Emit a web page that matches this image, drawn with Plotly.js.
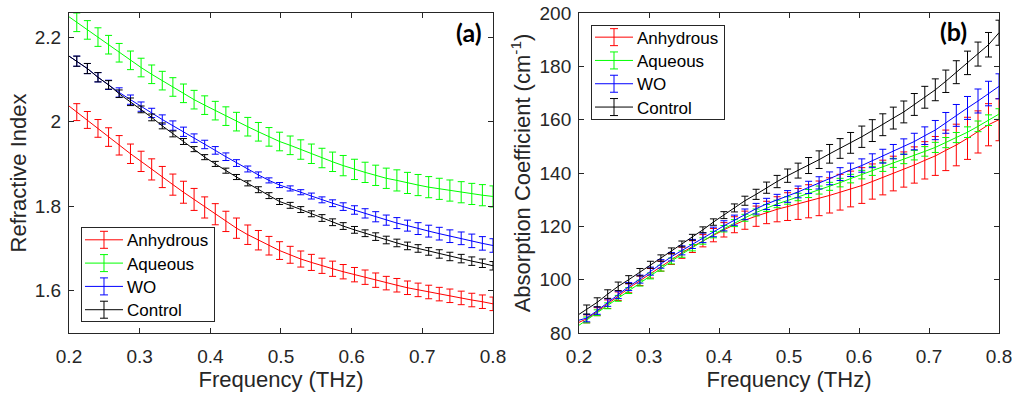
<!DOCTYPE html>
<html>
<head>
<meta charset="utf-8">
<script src="https://cdn.plot.ly/plotly-3.0.1.min.js"></script>
<style>html,body{margin:0;padding:0;background:#fff;}#chart{width:1012px;height:396px;}</style>
</head>
<body>
<div id="chart"></div>
<script>
// Frequency (THz): first value is the start of the curves, the rest are the error-bar points
const freq = [0.200, 0.211, 0.226, 0.241, 0.256, 0.271, 0.287, 0.302, 0.317, 0.332, 0.347,
  0.362, 0.377, 0.392, 0.407, 0.422, 0.437, 0.453, 0.468, 0.483, 0.498,
  0.513, 0.528, 0.543, 0.558, 0.573, 0.588, 0.604, 0.619, 0.634, 0.649,
  0.664, 0.679, 0.694, 0.709, 0.724, 0.739, 0.755, 0.770, 0.785, 0.800];

const seriesNames = ["Anhydrous", "Aqueous", "WO", "Control"];

// (a) Refractive index
const nAnhydrous = [2.037, 2.0225, 2.004, 1.984, 1.9635, 1.944, 1.924, 1.906, 1.887, 1.869, 1.851,
  1.833, 1.816, 1.797, 1.781, 1.764, 1.748, 1.7325, 1.7195, 1.7065, 1.695,
  1.685, 1.675, 1.667, 1.659, 1.652, 1.645, 1.638, 1.632, 1.625, 1.618,
  1.613, 1.607, 1.602, 1.597, 1.592, 1.588, 1.583, 1.578, 1.574, 1.569];
const nAqueous = [2.248, 2.235, 2.217, 2.200, 2.182, 2.163, 2.145, 2.128, 2.112, 2.097, 2.082,
  2.067, 2.052, 2.039, 2.026, 2.013, 2.000, 1.988, 1.976, 1.964, 1.953,
  1.944, 1.934, 1.924, 1.914, 1.905, 1.896, 1.887, 1.880, 1.873, 1.866,
  1.861, 1.855, 1.850, 1.845, 1.841, 1.837, 1.833, 1.829, 1.826, 1.823];
const nWO = [2.155, 2.143, 2.1256, 2.105, 2.087, 2.069, 2.052, 2.0355, 2.0206, 2.005, 1.9907,
  1.976, 1.961, 1.946, 1.932, 1.917, 1.902, 1.888, 1.874, 1.861, 1.850,
  1.842, 1.833, 1.824, 1.815, 1.807, 1.799, 1.791, 1.783, 1.775, 1.767,
  1.760, 1.754, 1.747, 1.741, 1.735, 1.729, 1.724, 1.718, 1.712, 1.707];
const nControl = [2.155, 2.143, 2.1256, 2.105, 2.087, 2.066, 2.047, 2.029, 2.010, 1.990, 1.971,
  1.953, 1.935, 1.916, 1.900, 1.884, 1.869, 1.854, 1.839, 1.825, 1.811,
  1.802, 1.792, 1.782, 1.772, 1.762, 1.753, 1.744, 1.736, 1.728, 1.720,
  1.713, 1.706, 1.700, 1.693, 1.687, 1.681, 1.676, 1.670, 1.665, 1.659];

const nErrAnhydrous = [NaN, 0.020, 0.020, 0.021, 0.022, 0.023, 0.023, 0.024, 0.025, 0.025, 0.025,
  0.026, 0.026, 0.025, 0.025, 0.024, 0.024, 0.023, 0.023, 0.022, 0.021,
  0.020, 0.019, 0.019, 0.018, 0.018, 0.017, 0.017, 0.017, 0.017, 0.016,
  0.016, 0.016, 0.016, 0.016, 0.016, 0.016, 0.016, 0.016, 0.016, 0.016];
const nErrAqueous = [NaN, 0.022, 0.022, 0.022, 0.022, 0.022, 0.022, 0.022, 0.022, 0.022, 0.022,
  0.022, 0.022, 0.022, 0.022, 0.022, 0.022, 0.022, 0.022, 0.022, 0.022,
  0.022, 0.023, 0.023, 0.023, 0.023, 0.024, 0.024, 0.024, 0.024, 0.024,
  0.025, 0.025, 0.025, 0.025, 0.025, 0.025, 0.025, 0.025, 0.025, 0.025];
const nErrWO = [NaN, 0.012, 0.012, 0.011, 0.011, 0.011, 0.011, 0.011, 0.011, 0.011, 0.011,
  0.011, 0.010, 0.010, 0.009, 0.009, 0.008, 0.007, 0.007, 0.006, 0.006,
  0.006, 0.006, 0.007, 0.007, 0.008, 0.009, 0.010, 0.011, 0.012, 0.012,
  0.013, 0.013, 0.014, 0.014, 0.015, 0.015, 0.015, 0.016, 0.016, 0.016];
const nErrControl = [NaN, 0.012, 0.012, 0.011, 0.010, 0.009, 0.009, 0.008, 0.008, 0.007, 0.007,
  0.007, 0.006, 0.006, 0.006, 0.006, 0.006, 0.006, 0.007, 0.007, 0.007,
  0.007, 0.007, 0.007, 0.008, 0.008, 0.008, 0.008, 0.008, 0.009, 0.009,
  0.009, 0.009, 0.009, 0.009, 0.010, 0.010, 0.010, 0.010, 0.010, 0.010];

// (b) Absorption coefficient (cm^-1)
const aAnhydrous = [84.0, 85.3, 88.0, 90.8, 93.8, 96.8, 99.6, 102.4, 105.1, 107.7, 110.1,
  112.4, 114.6, 116.7, 118.7, 120.6, 122.3, 123.8, 125.2, 126.4, 127.4,
  128.4, 129.4, 130.5, 131.6, 132.8, 134.0, 135.3, 136.8, 138.3, 139.8,
  141.3, 143.0, 144.75, 146.4, 148.5, 150.5, 153.0, 155.4, 158.1, 160.0];
const aAqueous = [82.9, 84.9, 87.6, 90.2, 93.0, 95.9, 98.7, 101.4, 104.3, 107.0, 109.6,
  112.0, 114.5, 116.9, 119.1, 121.2, 123.2, 125.2, 126.9, 128.4, 129.7,
  131.0, 132.3, 133.6, 135.0, 136.4, 137.9, 139.4, 140.8, 142.3, 143.8,
  145.3, 146.7, 148.1, 149.6, 151.4, 153.3, 155.3, 157.5, 159.8, 162.1];
const aWO = [84.8, 85.6, 88.4, 91.4, 94.3, 97.4, 100.2, 103.2, 105.9, 108.6, 111.0,
  113.4, 115.7, 117.9, 120.2, 122.3, 124.5, 126.6, 128.4, 129.9, 131.2,
  132.9, 134.6, 136.3, 138.0, 139.6, 141.2, 142.8, 144.6, 146.3, 148.0,
  149.9, 151.8, 154.0, 156.1, 158.8, 161.6, 164.4, 167.0, 169.8, 172.5];
const aControl = [87.0, 88.8, 91.5, 94.6, 97.5, 100.0, 102.8, 105.6, 108.1, 110.8, 113.4,
  115.9, 118.7, 121.6, 124.2, 126.9, 129.6, 132.0, 134.5, 136.8, 139.0,
  140.9, 142.8, 145.0, 147.2, 149.2, 151.3, 153.6, 155.9, 158.1, 160.6,
  162.9, 165.7, 168.4, 171.2, 174.4, 177.8, 181.3, 184.6, 188.1, 192.6];

const aErrAnhydrous = [NaN, 1.5, 1.5, 1.6, 1.6, 1.7, 1.8, 1.8, 1.9, 2.0, 2.1,
  2.2, 2.3, 2.5, 2.7, 3.0, 3.4, 3.8, 4.2, 4.7, 5.2,
  5.8, 6.2, 6.5, 6.6, 6.7, 6.7, 6.7, 6.6, 6.5, 6.5,
  6.6, 6.8, 7.0, 7.3, 7.6, 7.8, 7.9, 7.9, 7.9, 7.9];
const aErrAqueous = [NaN, 1.1, 1.1, 1.1, 1.1, 1.1, 1.1, 1.1, 1.1, 1.1, 1.2,
  1.2, 1.2, 1.2, 1.2, 1.3, 1.3, 1.3, 1.3, 1.4, 1.4,
  1.4, 1.5, 1.5, 1.5, 1.6, 1.6, 1.6, 1.7, 1.7, 1.7,
  1.8, 1.8, 1.8, 1.9, 1.9, 1.9, 2.0, 2.0, 2.0, 2.0];
const aErrWO = [NaN, 1.4, 1.4, 1.4, 1.4, 1.5, 1.5, 1.5, 1.6, 1.6, 1.7,
  1.7, 1.8, 1.8, 1.9, 1.9, 2.0, 2.0, 2.1, 2.1, 2.2,
  2.2, 2.3, 2.3, 2.4, 2.4, 2.5, 2.5, 2.6, 2.6, 2.7,
  2.9, 3.1, 3.3, 3.6, 3.9, 4.1, 4.3, 4.5, 4.6, 4.7];
const aErrControl = [NaN, 1.7, 1.7, 1.6, 1.6, 1.5, 1.4, 1.3, 1.2, 1.1, 1.1,
  1.1, 1.1, 1.2, 1.3, 1.5, 1.7, 1.9, 2.1, 2.3, 2.5,
  2.8, 3.0, 3.3, 3.5, 3.7, 3.9, 4.0, 4.1, 4.1, 4.1,
  4.1, 4.1, 4.1, 4.1, 4.2, 4.3, 4.4, 4.5, 4.6, 4.7];

const colors = ["#ff0000", "#00ff00", "#0000ff", "#000000"];
const nData = [nAnhydrous, nAqueous, nWO, nControl];
const nErr = [nErrAnhydrous, nErrAqueous, nErrWO, nErrControl];
const aData = [aAnhydrous, aAqueous, aWO, aControl];
const aErr = [aErrAnhydrous, aErrAqueous, aErrWO, aErrControl];

const FONT = "Liberation Sans, Arial, sans-serif";
const INK = "#262626";

function makeTrace(i, ys, errs, xa, ya, legendId) {
  return {
    type: "scatter", mode: "lines", name: seriesNames[i],
    x: freq, y: ys, xaxis: xa, yaxis: ya, legend: legendId,
    line: {color: colors[i], width: 1},
    error_y: {type: "data", array: errs, visible: true, color: colors[i], thickness: 1, width: 3.5}
  };
}

const traces = [];
for (let i = 0; i < 4; i++) traces.push(makeTrace(i, nData[i], nErr[i], "x", "y", "legend"));
for (let i = 0; i < 4; i++) traces.push(makeTrace(i, aData[i], aErr[i], "x2", "y2", "legend2"));

function axisBase() {
  return {
    showline: true, linecolor: INK, linewidth: 1, mirror: "ticks",
    ticks: "inside", ticklen: 5, tickwidth: 1, tickcolor: INK,
    showgrid: false, zeroline: false, ticklabeloverflow: "allow",
    tickfont: {family: FONT, size: 19, color: INK}
  };
}

const xTitle = {text: "Frequency (THz)", font: {family: FONT, size: 22, color: INK}, standoff: 5};
const legendBase = {xanchor: "left", yanchor: "top", bgcolor: "#ffffff", bordercolor: INK, borderwidth: 1,
  font: {family: FONT, size: 17, color: "#000000"}, tracegroupgap: 0, itemwidth: 35};

const layout = {
  width: 1012, height: 396,
  margin: {l: 69, r: 13, t: 13, b: 63},
  paper_bgcolor: "#ffffff", plot_bgcolor: "#ffffff",
  showlegend: true,
  xaxis: Object.assign(axisBase(), {domain: [0, 0.4559], range: [0.2, 0.8], dtick: 0.1, tick0: 0.2,
    title: xTitle, ticklabelstandoff: 6}),
  yaxis: Object.assign(axisBase(), {range: [1.5, 2.257], dtick: 0.2, tick0: 1.6,
    title: {text: "Refractive Index", font: {family: FONT, size: 22, color: INK}, standoff: 2}, ticklabelstandoff: 3}),
  xaxis2: Object.assign(axisBase(), {domain: [0.5484, 1], range: [0.2, 0.8], dtick: 0.1, tick0: 0.2,
    anchor: "y2", title: xTitle, ticklabelstandoff: 6}),
  yaxis2: Object.assign(axisBase(), {range: [80, 200], dtick: 20, tick0: 80, anchor: "x2",
    title: {text: "Absorption Coefficient (cm<sup>-1</sup>)", font: {family: FONT, size: 22, color: INK}, standoff: 2}, ticklabelstandoff: 3}),
  legend: Object.assign({x: 0.0129, y: 0.3303}, legendBase),
  legend2: Object.assign({x: 0.5613, y: 0.9636}, legendBase),
  annotations: [
    {text: "<b>(a)</b>", xref: "paper", yref: "paper", x: 0.430, y: 0.942, xanchor: "center", yanchor: "middle",
      showarrow: false, font: {family: "Lato, Open Sans, sans-serif", size: 25, color: "#000000"}},
    {text: "<b>(b)</b>", xref: "paper", yref: "paper", x: 0.951, y: 0.944, xanchor: "center", yanchor: "middle",
      showarrow: false, font: {family: "Lato, Open Sans, sans-serif", size: 25, color: "#000000"}}
  ]
};

Plotly.newPlot("chart", traces, layout, {displayModeBar: false, staticPlot: true}).then(function (gd) {
  const NS = "http://www.w3.org/2000/svg";
  // legend glyphs: longer line plus an error-bar mark, as in the reference
  gd.querySelectorAll("g.traces").forEach(function (g) {
    const d = g.__data__;
    if (!d || !d[0] || !d[0].trace) return;
    const col = d[0].trace.line.color;
    const ln = g.querySelector("path.js-line");
    if (ln) ln.setAttribute("d", "M3,0h38");
    const p = document.createElementNS(NS, "path");
    p.setAttribute("d", "M22,-8.5V8.5M18,-8.5h8M18,8.5h8");
    p.setAttribute("stroke", col);
    p.setAttribute("stroke-width", "1");
    p.setAttribute("fill", "none");
    g.appendChild(p);
  });
  // tighter legend rows (MATLAB spacing)
  const ROW = 23.3, PAD = 12;
  gd.querySelectorAll("g.infolayer > g.legend, g.infolayer > g.legend2").forEach(function (lg) {
    const bg = lg.querySelector("rect.bg");
    if (!bg) return;
    const top = bg.getBoundingClientRect().top;
    const items = Array.from(lg.querySelectorAll("g.traces"));
    items.forEach(function (g, i) {
      const cur = g.getBoundingClientRect();
      const ctm = g.getCTM();
      const want = top + PAD + i * ROW;
      const tr = g.getAttribute("transform") || "";
      const m = /translate\(\s*([-\d.e]+)[ ,]+([-\d.e]+)\s*\)/.exec(tr);
      if (!m || !ctm) return;
      const dy = want - ctm.f;
      g.setAttribute("transform", "translate(" + m[1] + "," + (parseFloat(m[2]) + dy) + ")");
    });
    const h = 2 * PAD + (items.length - 1) * ROW;
    bg.setAttribute("height", h);
    lg.querySelectorAll("clipPath rect").forEach(function (r) { r.setAttribute("height", h); });
  });
});
</script>
</body>
</html>
